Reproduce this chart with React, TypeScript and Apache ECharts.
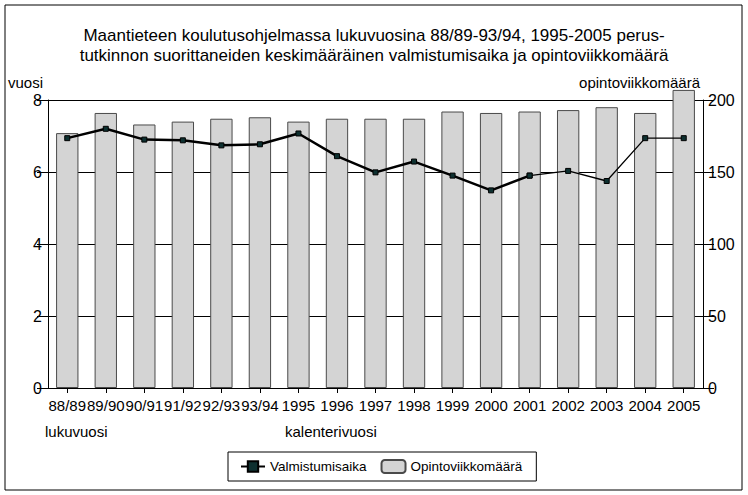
import React, { useEffect, useRef } from "react";
import * as echarts from "echarts";

const categories = ["88/89", "89/90", "90/91", "91/92", "92/93", "93/94", "1995", "1996", "1997", "1998", "1999", "2000", "2001", "2002", "2003", "2004", "2005"];
const valmistumisaika = [6.94, 7.2, 6.9, 6.88, 6.74, 6.77, 7.07, 6.44, 5.99, 6.29, 5.9, 5.49, 5.9, 6.03, 5.75, 6.94, 6.94];
const opintoviikkomaara = [177, 191, 183, 185, 187, 188, 185, 187, 187, 187, 192, 191, 192, 193, 195, 191, 207];
const leftTicks = { min: 0, max: 8, interval: 2 };
const rightTicks = { min: 0, max: 200, interval: 50 };

const FONT = "'Liberation Sans', Arial, sans-serif";
const THIN_FROM = 12;

export default function App() {
  const ref = useRef<HTMLDivElement>(null);
  useEffect(() => {
    if (!ref.current) return;
    const chart = echarts.init(ref.current, null, { renderer: "svg" });
    const thick = valmistumisaika.map((v, i) => (i <= THIN_FROM ? v : null));
    const thin = valmistumisaika.map((v, i) => (i >= THIN_FROM ? v : null));
    chart.setOption({
      animation: false,
      backgroundColor: "#fff",
      textStyle: { fontFamily: FONT, color: "#000" },
      title: {
        text: "Maantieteen koulutusohjelmassa lukuvuosina 88/89-93/94, 1995-2005 perus-\ntutkinnon suorittaneiden keskimääräinen valmistumisaika ja opintoviikkomäärä",
        left: "center",
        top: 20,
        textStyle: { fontFamily: FONT, fontSize: 17, fontWeight: "normal", color: "#000", lineHeight: 20 },
      },
      legend: {
        data: ["Valmistumisaika", "Opintoviikkomäärä"],
        left: 228,
        top: 452,
        padding: [7, 14, 7, 12],
        borderColor: "#000",
        borderWidth: 1,
        itemGap: 14,
        itemWidth: 24,
        itemHeight: 13,
        textStyle: { fontFamily: FONT, fontSize: 13.5, color: "#000" },
      },
      grid: { left: 48, right: 45, top: 100, bottom: 107, containLabel: false },
      graphic: [
        { type: "rect", shape: { x: 5, y: 5, width: 737, height: 485 }, style: { fill: "none", stroke: "#000", lineWidth: 1 }, silent: true },
        { type: "text", left: 8, top: 75, style: { text: "vuosi", fontFamily: FONT, fontSize: 15, fill: "#000" } },
        { type: "text", right: 48, top: 75, style: { text: "opintoviikkomäärä", fontFamily: FONT, fontSize: 15, fill: "#000" } },
        { type: "text", left: 45, top: 424, style: { text: "lukuvuosi", fontFamily: FONT, fontSize: 15, fill: "#000" } },
        { type: "text", left: 285, top: 424, style: { text: "kalenterivuosi", fontFamily: FONT, fontSize: 15, fill: "#000" } },
      ],
      xAxis: {
        type: "category",
        data: categories,
        boundaryGap: true,
        axisLine: { show: true, lineStyle: { color: "#000", width: 1 } },
        axisTick: { show: true, alignWithLabel: true, length: 5, lineStyle: { color: "#000" } },
        axisLabel: { interval: 0, margin: 10, fontSize: 15, color: "#000", fontFamily: FONT },
        splitLine: { show: false },
      },
      yAxis: [
        {
          type: "value",
          ...leftTicks,
          position: "left",
          axisLine: { show: true, lineStyle: { color: "#000", width: 1 } },
          axisTick: { show: true, length: 11, lineStyle: { color: "#000" } },
          axisLabel: { margin: 6, fontSize: 16, color: "#000", fontFamily: FONT },
          splitLine: { show: true, lineStyle: { color: "#000", width: 1 } },
        },
        {
          type: "value",
          ...rightTicks,
          position: "right",
          axisLine: { show: true, lineStyle: { color: "#000", width: 1 } },
          axisTick: { show: true, length: 11, lineStyle: { color: "#000" } },
          axisLabel: { margin: 5, fontSize: 16, color: "#000", fontFamily: FONT },
          splitLine: { show: false },
        },
      ],
      series: [
        {
          name: "Opintoviikkomäärä",
          type: "bar",
          yAxisIndex: 1,
          data: opintoviikkomaara,
          barCategoryGap: "42%",
          clip: false,
          itemStyle: { color: "#d4d4d4", borderColor: "#4a4a4a", borderWidth: 1 },
          z: 2,
        },
        {
          name: "Valmistumisaika",
          type: "line",
          yAxisIndex: 0,
          data: thick,
          symbol: "rect",
          symbolSize: 5,
          showAllSymbol: true,
          connectNulls: false,
          lineStyle: { color: "#000", width: 2.5 },
          itemStyle: { color: "#0e3030", borderColor: "#000", borderWidth: 1 },
          z: 4,
        },
        {
          name: "Valmistumisaika (jatko)",
          type: "line",
          yAxisIndex: 0,
          data: thin,
          symbol: "rect",
          symbolSize: 5,
          showAllSymbol: true,
          connectNulls: false,
          lineStyle: { color: "#000", width: 1.3 },
          itemStyle: { color: "#0e3030", borderColor: "#000", borderWidth: 1 },
          z: 4,
        },
      ],
    });
    return () => chart.dispose();
  }, []);
  return <div ref={ref} style={{ position: "fixed", left: 0, top: 0, width: 748, height: 495 }} />;
}
